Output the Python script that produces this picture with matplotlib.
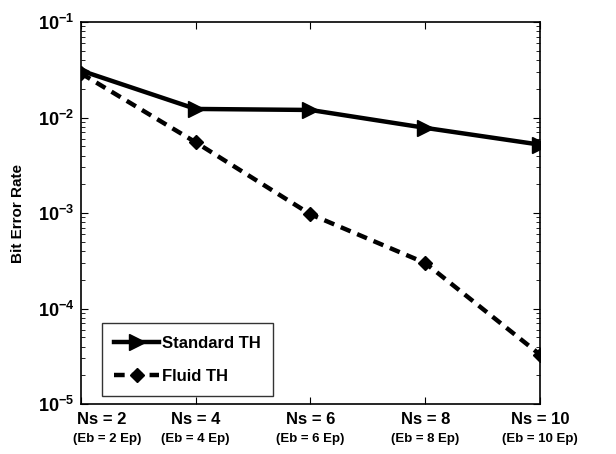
import numpy as np
import matplotlib
matplotlib.use('Agg')
import matplotlib.pyplot as plt
import matplotlib.transforms as mtransforms

plt.rcParams['font.family'] = ['Liberation Sans', 'DejaVu Sans']
plt.rcParams['font.weight'] = 'bold'
plt.rcParams['mathtext.fontset'] = 'custom'
plt.rcParams['mathtext.bf'] = 'Liberation Sans:bold'
plt.rcParams['mathtext.rm'] = 'Liberation Sans:bold'

# === Данные ===
ns = [2, 4, 6, 8, 10]
ns_labels = ['Ns = 2', 'Ns = 4', 'Ns = 6', 'Ns = 8', 'Ns = 10']
eb_labels = ['(Eb = 2 Ep)', '(Eb = 4 Ep)', '(Eb = 6 Ep)', '(Eb = 8 Ep)', '(Eb = 10 Ep)']
ber_standard = [0.031, 0.0123, 0.0120, 0.0078, 0.0052]
ber_fluid = [0.029, 0.0055, 0.00097, 0.00030, 0.000033]
ytick_vals = [1e-5, 1e-4, 1e-3, 1e-2, 1e-1]
ytick_labels = [r'$\mathbf{10^{-5}}$', r'$\mathbf{10^{-4}}$', r'$\mathbf{10^{-3}}$',
                r'$\mathbf{10^{-2}}$', r'$\mathbf{10^{-1}}$']

fig = plt.figure(figsize=(6.16, 4.54), dpi=100)
ax = fig.add_axes([0.1315, 0.110, 0.745, 0.8415])

ax.plot(ns, ber_standard, '-', color='black', lw=3.2, marker='>', ms=12,
        label='Standard TH')
ax.plot(ns, ber_fluid, '--', color='black', lw=3.2, marker='D', ms=7,
        dashes=(2.4, 1.6), label='Fluid TH')

ax.set_yscale('log')
ax.set_xlim(2, 10)
ax.set_ylim(1e-5, 1e-1)
ax.set_yticks(ytick_vals)
ax.set_yticklabels(ytick_labels, fontsize=13)
ax.set_ylabel('Bit Error Rate', fontsize=11, fontweight='bold', labelpad=9)
ax.tick_params(which='both', direction='in', top=True, right=True)
ax.tick_params(axis='y', which='major', length=5, pad=5)
ax.tick_params(axis='y', which='minor', length=3)
ax.tick_params(axis='x', length=5, pad=6)

ax.set_xticks(ns)
ax.set_xticklabels(ns_labels, fontsize=12, fontweight='bold')
first = ax.get_xticklabels()[0]
first.set_transform(first.get_transform() +
                    mtransforms.ScaledTranslation(15/72, 0, fig.dpi_scale_trans))

# Вторая строка подписей
trans = ax.get_xaxis_transform()
for i, (x, t) in enumerate(zip(ns, eb_labels)):
    dx = 19 if i == 0 else 0
    ax.annotate(t, xy=(x, 0), xycoords=trans, xytext=(dx, -25), textcoords='offset points',
                ha='center', va='center', fontsize=9.5, fontweight='bold',
                annotation_clip=False)

for sp in ax.spines.values():
    sp.set_linewidth(1.2)

leg = ax.legend(loc='lower left', bbox_to_anchor=(0.045, 0.02), fontsize=12,
                frameon=True, fancybox=False, edgecolor='black', handlelength=2.7,
                handletextpad=0.15, labelspacing=1.1, borderpad=0.75, borderaxespad=0.0)
leg.get_frame().set_linewidth(1.0)
for t in leg.get_texts():
    t.set_fontweight('bold')

fig.savefig('out.png', dpi=100)
